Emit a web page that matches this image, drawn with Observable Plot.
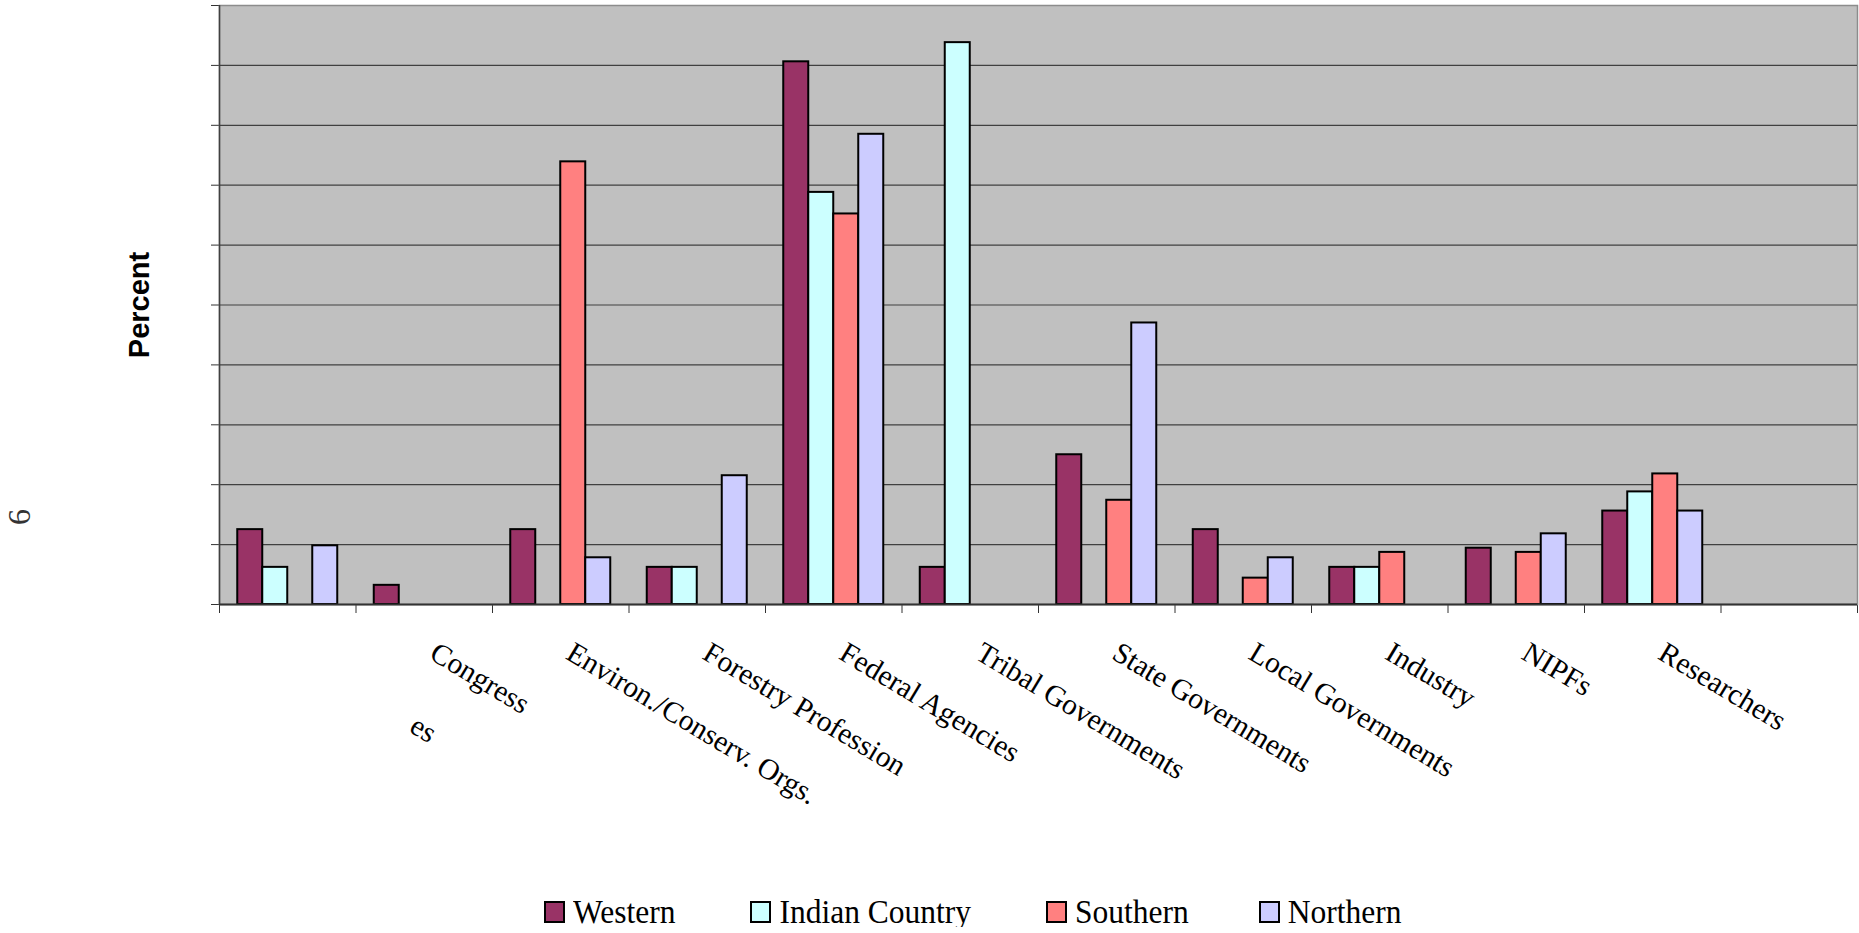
<!DOCTYPE html>
<html>
<head>
<meta charset="utf-8">
<script src="https://cdn.jsdelivr.net/npm/d3@7"></script>
<script src="https://cdn.jsdelivr.net/npm/@observablehq/plot@0.6"></script>
<style>
  html, body { margin: 0; padding: 0; background: #fff; }
  #chart { width: 1859px; }
  #chart svg { display: block; overflow: visible; }
  .legend { display: flex; align-items: center; padding-left: 544px; padding-top: 7px; height: 30px;
            font-family: "Liberation Serif", "Times New Roman", serif; font-size: 31.5px; line-height: 30px; color: #000; }
  .legend .item { display: flex; align-items: center; margin-right: 75px; white-space: nowrap; }
  .legend .item:nth-child(3) { margin-right: 70px; }
  .legend .sw { width: 17px; height: 18px; border: 2px solid #000; margin-right: 8px; box-sizing: content-box; }
  .legend .tx { display: inline-block; transform: scaleY(1.08); }
</style>
</head>
<body>
<div id="chart"></div>
<script>
// ---- data (percent) ----
const categories = ["es", "Congress", "Environ./Conserv. Orgs.", "Forestry Profession", "Federal Agencies",
  "Tribal Governments", "State Governments", "Local Governments", "Industry", "NIPFs", "Researchers", ""];
const series = ["Western", "Indian Country", "Southern", "Northern"];
const colors = ["#993366", "#CCFFFF", "#FF8080", "#CCCCFF"];
const western  = [6.25, 1.6, 6.25, 3.1, 45.3, 3.1, 12.5, 6.25, 3.1, 4.7, 7.8, null];
const indian   = [3.1, null, null, 3.1, 34.4, 46.9, null, null, 3.1, null, 9.4, null];
const southern = [null, null, 36.95, null, 32.6, null, 8.7, 2.2, 4.35, 4.35, 10.9, null];
const northern = [4.9, null, 3.9, 10.75, 39.25, null, 23.5, 3.9, null, 5.9, 7.8, null];
const yTicks = [0, 5, 10, 15, 20, 25, 30, 35, 40, 45, 50];
const yAxisTitle = "Percent";
const strayMark = "6";

// ---- table built from the arrays ----
const seriesValues = [western, indian, southern, northern];
const barFrac = 25 / 136.5;                       // bar width as a fraction of a category slot
const groupPad = (1 - series.length * barFrac) / 2;
const bars = [];
categories.forEach((c, i) => {
  seriesValues.forEach((vals, s) => {
    const v = vals[i];
    if (v != null) bars.push({
      category: c, series: series[s], value: v,
      x1: i + groupPad + s * barFrac, x2: i + groupPad + (s + 1) * barFrac
    });
  });
});
const labels = categories.map((c, i) => ({label: c, x: i + 0.5, i}));
const boundaries = d3.range(0, categories.length + 1);

const angle = 31;
const rad = angle * Math.PI / 180;
const baseDx = 3.8, baseDy = 53.5;
const esShift = 136;   // the clipped first label shows only its tail

const plot = Plot.plot({
  width: 1859,
  height: 890,
  marginTop: 5,
  marginBottom: 286,
  marginLeft: 219,
  marginRight: 2,
  style: {fontFamily: "Liberation Serif", color: "#333", background: "transparent", overflow: "visible"},
  x: {domain: [0, categories.length], ticks: boundaries, tickSize: 9, tickFormat: () => "", label: null},
  y: {domain: [0, 50], ticks: yTicks, tickSize: 8, tickFormat: () => "", label: null},
  color: {domain: series, range: colors},
  marks: [
    Plot.frame({fill: "#c0c0c0", stroke: "#8c8c8c", strokeWidth: 1.5}),
    Plot.ruleY(yTicks.slice(1, -1), {stroke: "#404040", strokeWidth: 1.2}),
    Plot.rectY(bars, {x1: "x1", x2: "x2", y1: 0, y2: "value", fill: "series", stroke: "#000", strokeWidth: 2}),
    Plot.ruleX([0], {stroke: "#404040", strokeWidth: 1.5}),
    Plot.ruleY([0], {stroke: "#333", strokeWidth: 2}),
    Plot.text(labels.filter(d => d.i > 0 && d.label), {
      x: "x", frameAnchor: "bottom", text: "label", rotate: angle, textAnchor: "start",
      dx: baseDx, dy: baseDy, fontSize: 29.5, fontFamily: "Liberation Serif", fill: "#000"
    }),
    Plot.text(labels.filter(d => d.i === 0), {
      x: "x", frameAnchor: "bottom", text: "label", rotate: angle, textAnchor: "start",
      dx: baseDx + esShift * Math.cos(rad), dy: baseDy + 3 + esShift * Math.sin(rad),
      fontSize: 29.5, fontFamily: "Liberation Serif", fill: "#000"
    }),
    Plot.text([yAxisTitle], {
      frameAnchor: "left", text: d => d, rotate: -90, textAnchor: "middle", dx: -80,
      fontSize: 29, fontWeight: "bold", fontFamily: "Liberation Sans", fill: "#000"
    }),
    Plot.text([strayMark], {
      frameAnchor: "left", text: d => d, rotate: -90, textAnchor: "middle", dx: -199.4, dy: 212,
      fontSize: 32, fontFamily: "Liberation Serif", fill: "#333"
    })
  ]
});

const chart = document.getElementById("chart");
chart.appendChild(plot);

const legend = document.createElement("div");
legend.className = "legend";
series.forEach((s, k) => {
  const item = document.createElement("div");
  item.className = "item";
  const sw = document.createElement("span");
  sw.className = "sw";
  sw.style.background = colors[k];
  const t = document.createElement("span");
  t.className = "tx";
  t.textContent = s;
  item.appendChild(sw);
  item.appendChild(t);
  legend.appendChild(item);
});
chart.appendChild(legend);
</script>
</body>
</html>
